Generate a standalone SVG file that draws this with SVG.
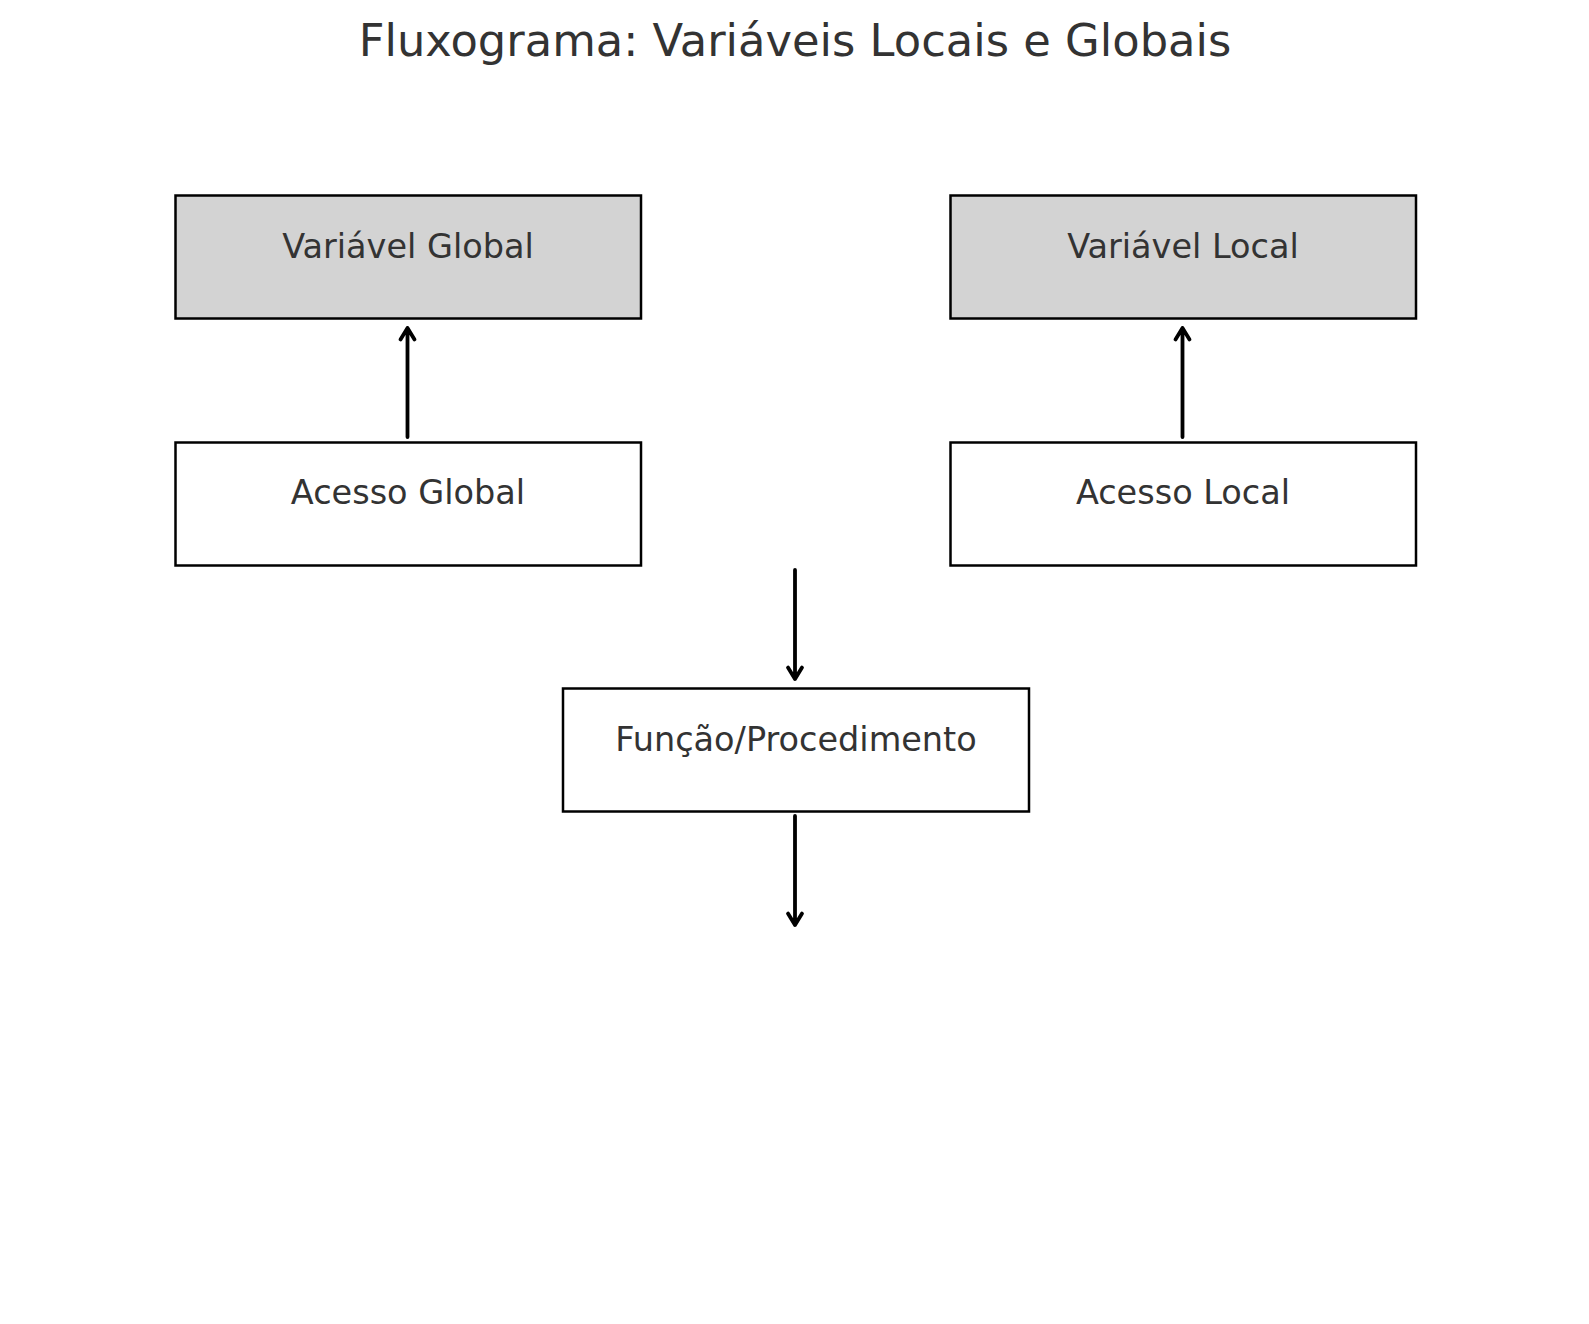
<svg xmlns="http://www.w3.org/2000/svg" width="1589" height="1324" viewBox="0 0 1589 1324">
<style>
.box{stroke:#000;stroke-width:2.5;}
.gray{fill:#d3d3d3;}
.white{fill:#fff;}
.lbl{font-family:"DejaVu Sans",sans-serif;font-size:33.5px;fill:#333;text-anchor:middle;}
.title{font-family:"DejaVu Sans",sans-serif;font-size:44.8px;fill:#333;text-anchor:middle;}
.conn{stroke:#000;stroke-width:3.8;fill:none;stroke-linecap:round;stroke-linejoin:round;}
</style>
<rect width="1589" height="1324" fill="#fff"/>
<text class="title" x="795" y="56">Fluxograma: Variáveis Locais e Globais</text>
<g id="variavel-global">
<rect class="box gray" x="175.5" y="195.5" width="465.5" height="123"/>
<text class="lbl" x="408" y="257.5">Variável Global</text>
</g>
<g id="variavel-local">
<rect class="box gray" x="950.5" y="195.5" width="465.5" height="123"/>
<text class="lbl" x="1183" y="257.5">Variável Local</text>
</g>
<g id="acesso-global">
<rect class="box white" x="175.5" y="442.5" width="465.5" height="123"/>
<text class="lbl" x="408" y="504">Acesso Global</text>
</g>
<g id="acesso-local">
<rect class="box white" x="950.5" y="442.5" width="465.5" height="123"/>
<text class="lbl" x="1183" y="504">Acesso Local</text>
</g>
<g id="funcao">
<rect class="box white" x="563" y="688.5" width="466" height="123"/>
<text class="lbl" x="796" y="750.5">Função/Procedimento</text>
</g>
<g id="connectors">
<path class="conn" d="M407.5,437 V328 M400.5,339.5 L407.5,328 L414.5,339.5"/>
<path class="conn" d="M1182.5,437 V328 M1175.5,339.5 L1182.5,328 L1189.5,339.5"/>
<path class="conn" d="M795,570 V679 M788,667.5 L795,679 L802,667.5"/>
<path class="conn" d="M795,816 V925 M788,913.5 L795,925 L802,913.5"/>
</g>
</svg>
